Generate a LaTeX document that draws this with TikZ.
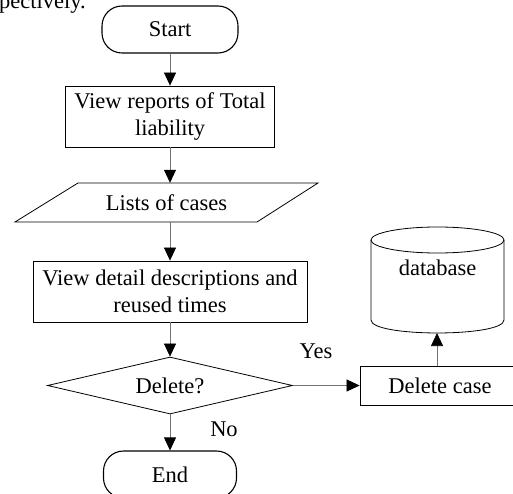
\documentclass[tikz,border=0pt]{standalone}
\usepackage{fontspec}
\setmainfont{Liberation Serif}
\usetikzlibrary{arrows.meta,shapes.geometric}
\begin{document}
\begin{tikzpicture}[x=1pt,y=-1pt,
  every node/.style={font=\fontsize{22.5pt}{27pt}\selectfont},
  procbox/.style={draw=black, line width=0.8pt, align=center, inner sep=0pt},
  termbox/.style={draw=black, line width=1.1pt, rounded corners=20pt, inner sep=0pt},
  decbox/.style={draw=black, line width=0.8pt, diamond, inner sep=0pt},
  shapeline/.style={draw=black, line width=0.8pt},
  arr/.style={draw=black!55, line width=0.7pt, -{Triangle[length=13pt,width=12pt,color=black,fill=black]}},
  lbl/.style={inner sep=0pt}]
\useasboundingbox (0,0) rectangle (513,494);
\clip (0,0) rectangle (513,494);
% fragment of text above the figure
\node[lbl, anchor=base west] (frag) at (-1,9) {pectively.};
% main column
\node[termbox, minimum width=136pt, minimum height=47pt] (start) at (170,29.5) {Start};
\node[procbox, minimum width=209pt, minimum height=61pt] (view) at (170,116.5) {View reports of Total\\liability};
\node[lbl, minimum width=180pt, minimum height=39pt] (lists) at (166.5,202.5) {Lists of cases};
\draw[shapeline] (78,183) -- (318,183) -- (257,222) -- (15,222) -- cycle;
\node[procbox, minimum width=274pt, minimum height=61pt] (detail) at (170,291.5) {View detail descriptions and\\reused times};
\node[decbox, shape aspect=4.3, minimum width=245pt, minimum height=57pt] (dec) at (170,385.5) {Delete?};
\node[termbox, minimum width=133pt, minimum height=47pt] (end) at (170,474.5) {End};
% right branch
\node[procbox, minimum width=160pt, minimum height=39pt] (del) at (440,385.5) {Delete case};
\draw[shapeline] (437.5,240) ellipse [x radius=66.5, y radius=13];
\draw[shapeline] (371,240) -- (371,320) .. controls (371,337.3) and (504,337.3) .. (504,320) -- (504,240);
\node[lbl] (db) at (437.5,268) {database};
\coordinate (dbb) at (437,333);
% labels
\node[lbl] (yes) at (316,351) {Yes};
\node[lbl] (no) at (224,429.5) {No};
% connectors
\draw[arr] (start.south) -- (view.north);
\draw[arr] (view.south) -- (view.south |- lists.north);
\draw[arr] (detail.north |- lists.south) -- (detail.north);
\draw[arr] (detail.south) -- (dec.north);
\draw[arr] (dec.south) -- (end.north);
\draw[arr] (dec.east) -- (del.west);
\draw[arr] (del.north -| dbb) -- (dbb);
\end{tikzpicture}
\end{document}
